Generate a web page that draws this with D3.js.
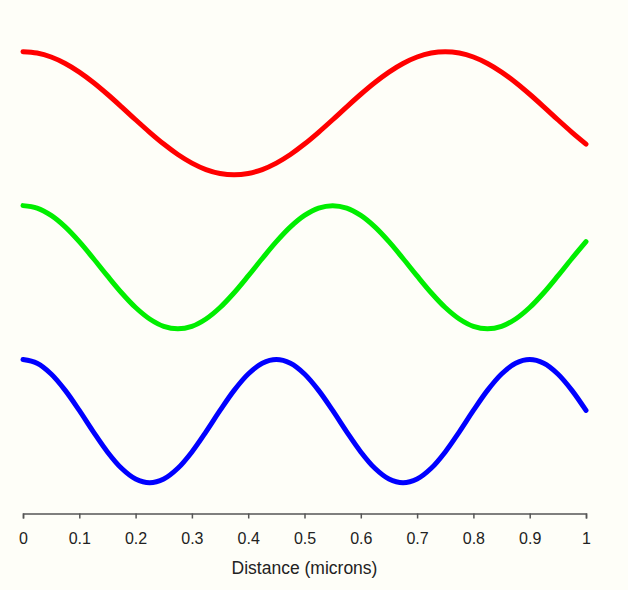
<!DOCTYPE html>
<html>
<head>
<meta charset="utf-8">
<script src="https://cdn.jsdelivr.net/npm/d3@7"></script>
<style>
  html, body { margin: 0; padding: 0; background: #fefef8; }
  svg { display: block; }
</style>
</head>
<body>
<div id="chart"></div>
<script>
// distance samples (microns), every 0.025
const distance = d3.range(41).map(i => i / 40);

// readings of each wave around its own band
const redWave = [1, 0.978, 0.914, 0.809, 0.669, 0.5, 0.309, 0.105, -0.105, -0.309,
  -0.5, -0.669, -0.809, -0.914, -0.978, -1, -0.978, -0.914, -0.809, -0.669,
  -0.5, -0.309, -0.105, 0.105, 0.309, 0.5, 0.669, 0.809, 0.914, 0.978,
  1, 0.978, 0.914, 0.809, 0.669, 0.5, 0.309, 0.105, -0.105, -0.309, -0.5];
const greenWave = [1, 0.960, 0.841, 0.655, 0.415, 0.142, -0.142, -0.415, -0.655, -0.841,
  -0.960, -1, -0.960, -0.841, -0.655, -0.415, -0.142, 0.142, 0.415, 0.655,
  0.841, 0.960, 1, 0.960, 0.841, 0.655, 0.415, 0.142, -0.142, -0.415,
  -0.655, -0.841, -0.960, -1, -0.960, -0.841, -0.655, -0.415, -0.142, 0.142, 0.415];
const blueWave = [1, 0.940, 0.766, 0.5, 0.174, -0.174, -0.5, -0.766, -0.940, -1,
  -0.940, -0.766, -0.5, -0.174, 0.174, 0.5, 0.766, 0.940, 1, 0.940,
  0.766, 0.5, 0.174, -0.174, -0.5, -0.766, -0.940, -1, -0.940, -0.766,
  -0.5, -0.174, 0.174, 0.5, 0.766, 0.940, 1, 0.940, 0.766, 0.5, 0.174];

const seriesNames = ["red", "green", "blue"];
const seriesWaves = [redWave, greenWave, blueWave];
const seriesOffset = [5, 2.5, 0];
const seriesColor = ["#ff0000", "#00ee00", "#0000ff"];

const tickValues = [0, 0.1, 0.2, 0.3, 0.4, 0.5, 0.6, 0.7, 0.8, 0.9, 1];
const tickLabels = ["0", "0.1", "0.2", "0.3", "0.4", "0.5", "0.6", "0.7", "0.8", "0.9", "1"];
const xTitle = "Distance (microns)";

const width = 628, height = 590;
const font = "'Liberation Sans', Arial, sans-serif";

const svg = d3.select("#chart")
  .append("svg")
  .attr("width", width)
  .attr("height", height);

const x = d3.scaleLinear().domain([0, 1]).range([23, 586]);
const y = d3.scaleLinear().domain([-1.5, 6]).range([513.5, 51.7]);

const line = d3.line()
  .x(d => x(d[0]))
  .y(d => y(d[1]))
  .curve(d3.curveCatmullRom);

seriesNames.forEach((name, i) => {
  const pts = distance.map((dx, j) => [dx, seriesWaves[i][j] + seriesOffset[i]]);
  svg.append("path")
    .datum(pts)
    .attr("class", "wave " + name)
    .attr("fill", "none")
    .attr("stroke", seriesColor[i])
    .attr("stroke-width", 5)
    .attr("stroke-linecap", "round")
    .attr("d", line);
});

const axis = svg.append("g")
  .attr("transform", "translate(0,513.5)")
  .call(d3.axisBottom(x)
    .tickValues(tickValues)
    .tickFormat((d, i) => tickLabels[i])
    .tickSize(5)
    .tickPadding(14));

axis.attr("font-family", font).attr("font-size", 16);
axis.select(".domain").attr("stroke", "#555").attr("stroke-width", 1.5);
axis.selectAll(".tick line").attr("stroke", "#555").attr("stroke-width", 1.5);
axis.selectAll(".tick text").attr("fill", "#222");

svg.append("text")
  .attr("x", x(0.5))
  .attr("y", 574)
  .attr("text-anchor", "middle")
  .attr("fill", "#222")
  .attr("font-family", font)
  .attr("font-size", 17.5)
  .text(xTitle);
</script>
</body>
</html>
